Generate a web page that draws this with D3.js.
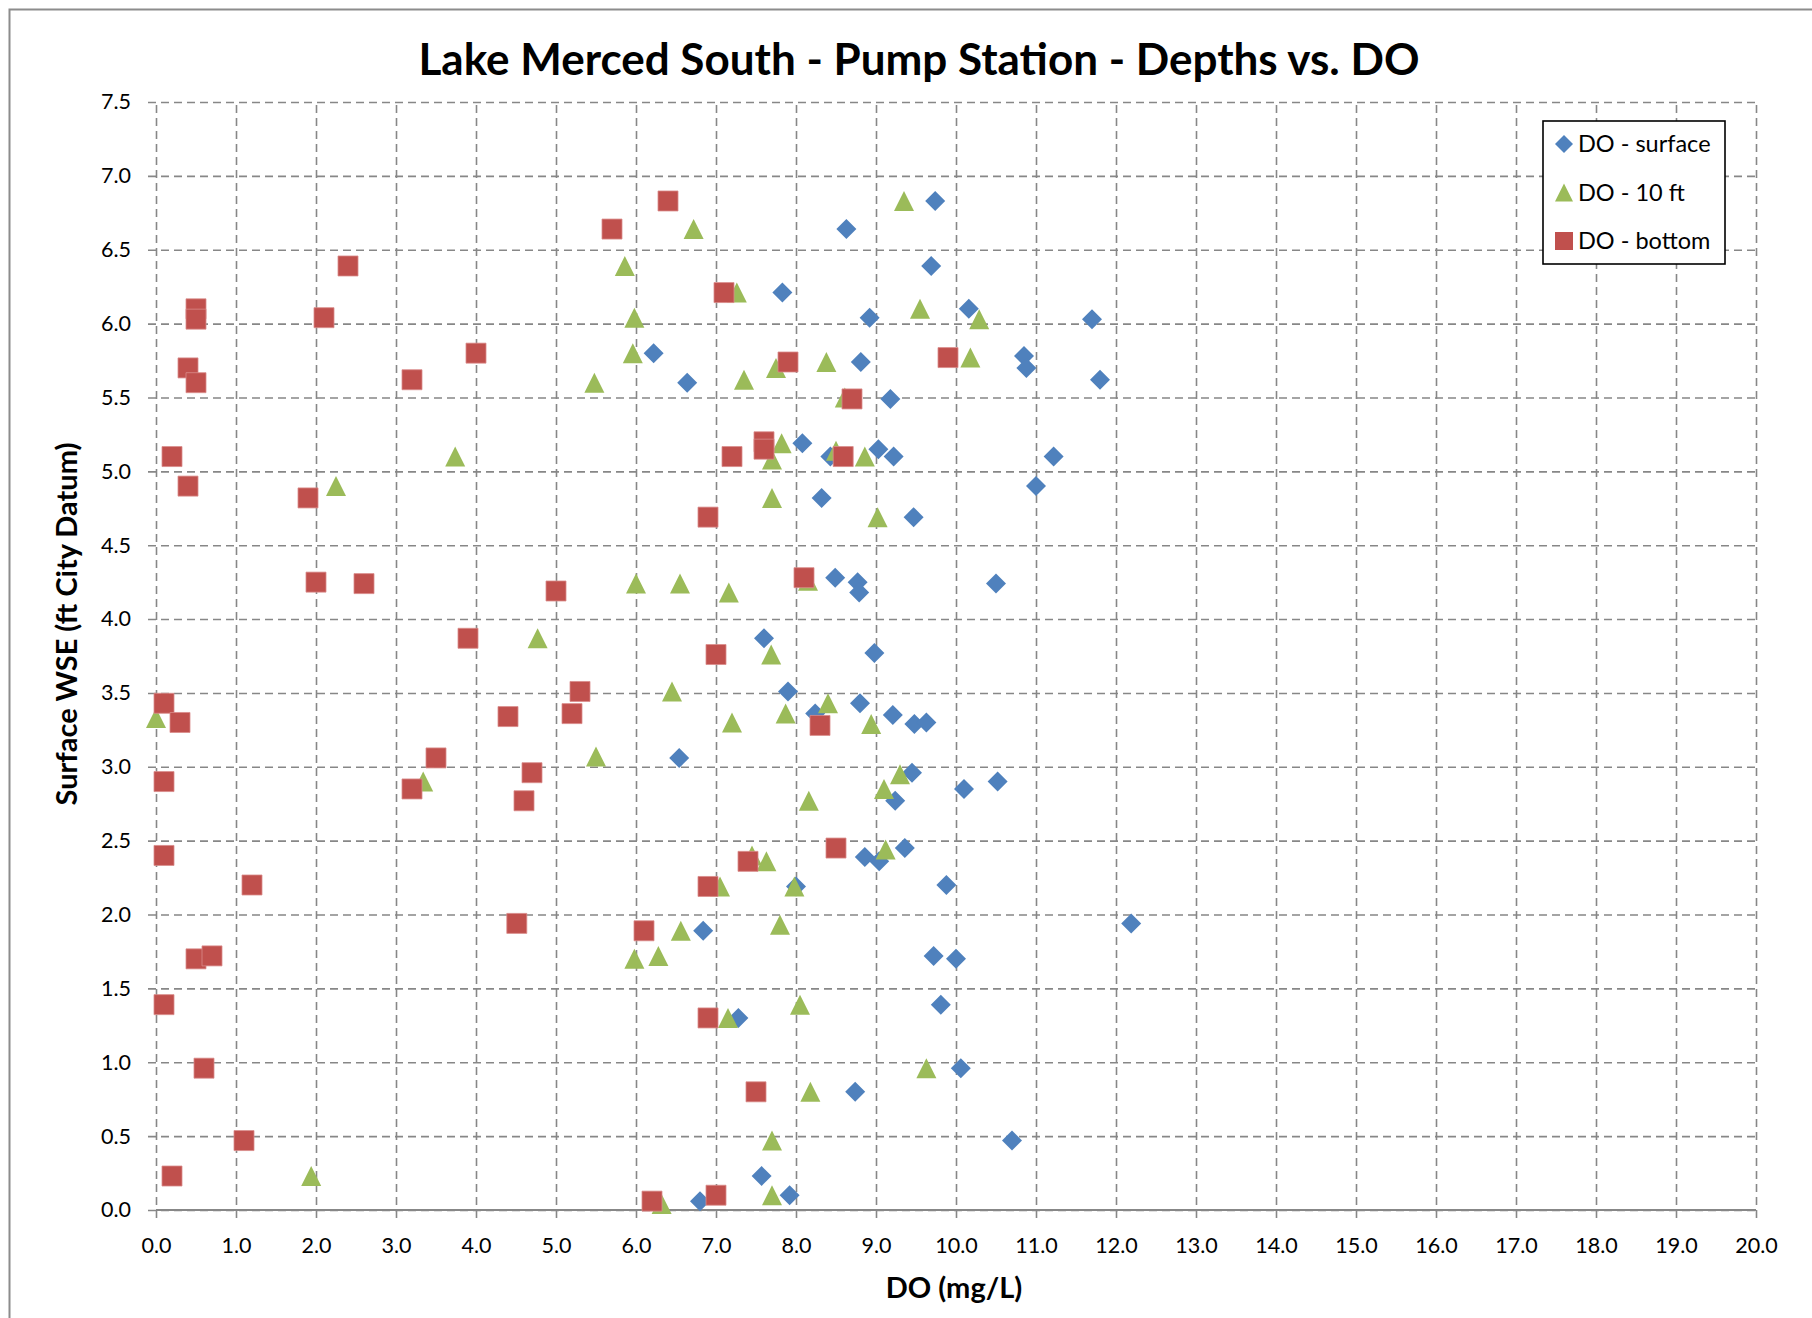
<!DOCTYPE html>
<html>
<head>
<meta charset="utf-8">
<script src="https://cdn.jsdelivr.net/npm/d3@7"></script>
<style>
    body { margin: 0; background: #fff; }
    text { font-family: Lato, "Open Sans", sans-serif; fill: #000; }
</style>
</head>
<body>
<div id="chart"></div>
<script>
// [DO mg/L, surface WSE ft]
var surface = [
    [9.74, 6.83], [8.63, 6.64], [9.69, 6.39], [7.83, 6.21], [8.92, 6.04], [10.16, 6.10],
    [11.70, 6.03], [6.22, 5.80], [6.64, 5.60], [8.81, 5.74], [10.85, 5.78], [10.88, 5.70],
    [11.80, 5.62], [9.18, 5.49], [8.08, 5.19], [8.43, 5.10], [9.03, 5.15], [9.22, 5.10],
    [11.22, 5.10], [11.00, 4.90], [8.32, 4.82], [9.47, 4.69], [8.49, 4.28], [8.77, 4.25],
    [8.79, 4.18], [10.50, 4.24], [7.60, 3.87], [8.98, 3.77], [7.90, 3.51], [8.80, 3.43],
    [8.24, 3.36], [9.21, 3.35], [9.48, 3.29], [9.63, 3.30], [6.54, 3.06], [9.45, 2.96],
    [9.24, 2.77], [10.10, 2.85], [10.52, 2.90], [8.86, 2.39], [9.04, 2.36], [9.36, 2.45],
    [9.88, 2.20], [8.00, 2.19], [12.19, 1.94], [6.84, 1.89], [9.72, 1.72], [10.00, 1.70],
    [9.81, 1.39], [7.28, 1.30], [10.06, 0.96], [8.74, 0.80], [10.70, 0.47], [7.57, 0.23],
    [7.92, 0.10], [6.80, 0.06]
];

var tenFt = [
    [9.35, 6.83], [6.72, 6.64], [5.86, 6.39], [7.26, 6.21], [5.98, 6.04], [9.55, 6.10],
    [10.29, 6.03], [5.96, 5.80], [5.48, 5.60], [7.35, 5.62], [7.75, 5.70], [8.38, 5.74],
    [10.18, 5.77], [8.61, 5.50], [7.82, 5.19], [7.70, 5.08], [8.50, 5.14], [8.86, 5.10],
    [3.74, 5.10], [2.25, 4.90], [7.70, 4.82], [9.02, 4.69], [6.00, 4.24], [6.55, 4.24],
    [7.16, 4.18], [8.15, 4.26], [4.77, 3.87], [7.69, 3.76], [6.45, 3.51], [8.40, 3.43],
    [0.00, 3.33], [7.20, 3.30], [7.87, 3.36], [8.94, 3.29], [5.50, 3.07], [3.34, 2.90],
    [9.30, 2.95], [9.10, 2.85], [8.16, 2.77], [7.45, 2.40], [7.63, 2.36], [9.12, 2.44],
    [7.05, 2.19], [7.98, 2.19], [6.56, 1.89], [7.80, 1.93], [5.98, 1.70], [6.28, 1.72],
    [7.15, 1.30], [8.05, 1.39], [9.63, 0.96], [8.18, 0.80], [7.70, 0.47], [1.94, 0.23],
    [7.70, 0.10], [6.32, 0.04]
];

var bottom = [
    [6.40, 6.83], [5.70, 6.64], [2.40, 6.39], [7.10, 6.21], [0.50, 6.10], [0.50, 6.03],
    [2.10, 6.04], [4.00, 5.80], [0.40, 5.70], [0.50, 5.60], [3.20, 5.62], [7.90, 5.74],
    [9.90, 5.77], [8.70, 5.49], [0.20, 5.10], [7.20, 5.10], [7.60, 5.20], [7.60, 5.15],
    [8.59, 5.10], [0.40, 4.90], [1.90, 4.82], [6.90, 4.69], [2.00, 4.25], [2.60, 4.24],
    [5.00, 4.19], [8.10, 4.28], [3.90, 3.87], [7.00, 3.76], [5.30, 3.51], [0.10, 3.43],
    [0.30, 3.30], [4.40, 3.34], [5.20, 3.36], [8.30, 3.28], [3.50, 3.06], [4.70, 2.96],
    [0.10, 2.90], [3.20, 2.85], [4.60, 2.77], [0.10, 2.40], [7.40, 2.36], [8.50, 2.45],
    [1.20, 2.20], [6.90, 2.19], [4.51, 1.94], [6.10, 1.89], [0.50, 1.70], [0.70, 1.72],
    [0.10, 1.39], [6.90, 1.30], [0.60, 0.96], [7.50, 0.80], [1.10, 0.47], [0.20, 0.23],
    [7.00, 0.10], [6.20, 0.06]
];

var seriesNames = ["DO - surface", "DO - 10 ft", "DO - bottom"],
    seriesColors = ["#4F81BD", "#9BBB59", "#C0504D"],
    xTicks = [0, 1, 2, 3, 4, 5, 6, 7, 8, 9, 10, 11, 12, 13, 14, 15, 16, 17, 18, 19, 20],
    yTicks = [0, 0.5, 1, 1.5, 2, 2.5, 3, 3.5, 4, 4.5, 5, 5.5, 6, 6.5, 7, 7.5];

var W = 1812,
    H = 1318,
    margin = { top: 102, right: 56, bottom: 108, left: 156 },
    width = W - margin.left - margin.right,
    height = H - margin.top - margin.bottom,
    fmt = d3.format(".1f"),
    gridColor = "#878787";

var svg = d3.select("#chart")
    .append("svg")
    .attr("width", W)
    .attr("height", H);

// chart area border
svg.append("rect")
    .attr("x", 9.5)
    .attr("y", 9.5)
    .attr("width", W + 20)
    .attr("height", H + 20)
    .attr("fill", "#fff")
    .attr("stroke", "#8c8c8c")
    .attr("stroke-width", 2);

svg.append("text")
    .attr("x", 919)
    .attr("y", 75)
    .attr("text-anchor", "middle")
    .style("font-size", "44px")
    .style("font-weight", "bold")
    .text("Lake Merced South - Pump Station - Depths vs. DO");

var chart = svg.append("g")
    .attr("transform", "translate(" + margin.left + "," + margin.top + ")");

var x = d3.scaleLinear().domain([0, 20]).range([0, width]);
var y = d3.scaleLinear().domain([0, 7.5]).range([height, 0]);

// vertical gridlines (run a little below the axis as tick marks)
chart.append("g")
    .attr("class", "grid")
    .attr("transform", "translate(0," + (height + 8) + ")")
    .call(d3.axisBottom(x).tickValues(xTicks).tickSize(-(height + 8)).tickFormat(""));

// horizontal gridlines (run a little left of the plot as tick marks)
chart.append("g")
    .attr("class", "grid")
    .attr("transform", "translate(-8,0)")
    .call(d3.axisLeft(y).tickValues(yTicks).tickSize(-(width + 8)).tickFormat(""));

chart.selectAll(".grid .domain").remove();
chart.selectAll(".grid line")
    .attr("stroke", gridColor)
    .attr("stroke-width", 1.6)
    .attr("stroke-dasharray", "8,5");

// x axis line
chart.append("line")
    .attr("x1", 0)
    .attr("x2", width)
    .attr("y1", height)
    .attr("y2", height)
    .attr("stroke", gridColor)
    .attr("stroke-width", 2);

var xAxis = chart.append("g")
    .attr("transform", "translate(0," + height + ")")
    .call(d3.axisBottom(x).tickValues(xTicks).tickSize(0).tickPadding(28).tickFormat(fmt));

var yAxis = chart.append("g")
    .call(d3.axisLeft(y).tickValues(yTicks).tickSize(0).tickPadding(25).tickFormat(fmt));

xAxis.select(".domain").remove();
yAxis.select(".domain").remove();
chart.selectAll(".tick text")
    .attr("fill", "#000")
    .style("font-size", "21.5px")
    .style("font-family", "Lato, sans-serif");

// axis titles
svg.append("text")
    .attr("x", 954)
    .attr("y", 1298)
    .attr("text-anchor", "middle")
    .style("font-size", "29px")
    .style("font-weight", "bold")
    .text("DO (mg/L)");

svg.append("text")
    .attr("transform", "translate(77,624) rotate(-90)")
    .attr("text-anchor", "middle")
    .style("font-size", "29px")
    .style("font-weight", "bold")
    .text("Surface WSE (ft City Datum)");

// marker shapes
function diamond(r) {
    return "M0," + (-r) + "L" + r + ",0L0," + r + "L" + (-r) + ",0Z";
}
function triangle(r) {
    return "M0," + (-r) + "L" + r + "," + r + "L" + (-r) + "," + r + "Z";
}
function square(r) {
    return "M" + (-r) + "," + (-r) + "H" + r + "V" + r + "H" + (-r) + "Z";
}
var shapes = [diamond, triangle, square];
var allSeries = [surface, tenFt, bottom];

allSeries.forEach(function (data, i) {
    chart.append("g")
        .selectAll("path")
        .data(data)
        .enter()
        .append("path")
        .attr("transform", function (d) { return "translate(" + x(d[0]) + "," + y(d[1]) + ")"; })
        .attr("d", shapes[i](10))
        .attr("fill", seriesColors[i])
        .attr("stroke", i == 2 ? "#d98c8a" : "none")
        .attr("stroke-width", 0.8);
});

// legend
var legend = svg.append("g");
legend.append("rect")
    .attr("x", 1543)
    .attr("y", 121)
    .attr("width", 182)
    .attr("height", 143)
    .attr("fill", "#fff")
    .attr("stroke", "#000")
    .attr("stroke-width", 1.6);

seriesNames.forEach(function (name, i) {
    var cy = 144 + i * 48.5;
    legend.append("path")
        .attr("transform", "translate(1564," + cy + ")")
        .attr("d", shapes[i](9))
        .attr("fill", seriesColors[i]);
    legend.append("text")
        .attr("x", 1578)
        .attr("y", cy)
        .attr("dy", "0.36em")
        .style("font-size", "23.5px")
        .text(name);
});
</script>
</body>
</html>
